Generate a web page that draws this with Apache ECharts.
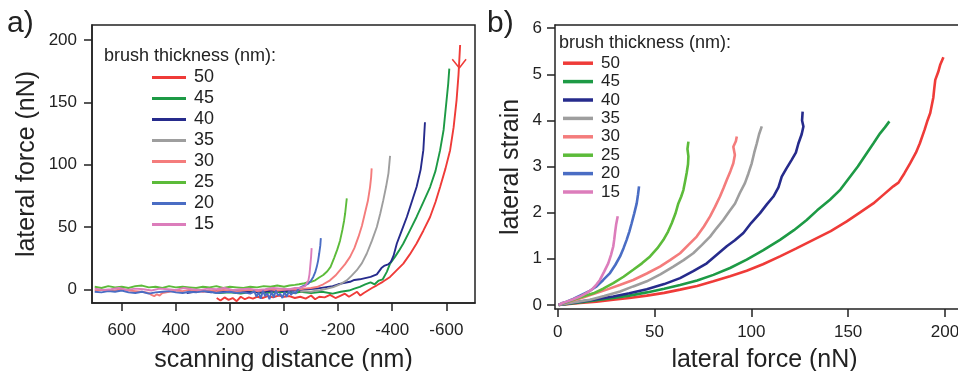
<!DOCTYPE html>
<html>
<head>
<meta charset="utf-8">
<script src="https://cdn.jsdelivr.net/npm/echarts@6/dist/echarts.min.js"></script>
</head>
<body style="margin:0">
<div id="main" style="width:958px;height:371px"></div>
<script>
// series names (brush thickness, nm) and colours
var names = ['50', '45', '40', '35', '30', '25', '20', '15'];
var colors = ['#ef3b38', '#1d9a45', '#262b8c', '#9e9e9e', '#f47c7c', '#5cbb3a', '#4a6dc4', '#dc7dbb'];

// panel a: scanning distance (nm) vs lateral force (nN)
var a50 = [[249,-7],[235,-9],[220,-6.5],[205,-8.5],[190,-7],[175,-9.5],[160,-6],[145,-8],[130,-6.5],[115,-7.5],[100,-6],[80,-7],[60,-5.5],[40,-6.5],[20,-5],[0,-6],[-20,-5.5],[-40,-7],[-60,-6],[-80,-7.5],[-100,-5],[-115,-8],[-130,-6],[-150,-6.5],[-170,-4.5],[-190,-7],[-210,-5],[-225,-3.5],[-240,-6],[-255,-4],[-270,-2],[-282,-5],[-295,-3],[-310,-1],[-325,1],[-343,3.2],[-365,6],[-392,9.9],[-415,15],[-441,20.6],[-465,28],[-490,36.7],[-515,47],[-540,58],[-560,70],[-577,82],[-597,97],[-614,111.6],[-627,130],[-638,152],[-645,172],[-651,196]];
var a45 = [[270,-2],[240,-3],[200,-2.5],[160,-3.5],[120,-2],[80,-3],[40,-2.5],[0,-2],[-40,-3],[-60,-2],[-100,-3],[-140,-2],[-180,-3.5],[-210,-2],[-240,-1],[-260,0.5],[-280,2],[-300,4],[-320,5.5],[-335,4],[-350,7],[-365,8],[-380,14],[-392,20.6],[-410,26],[-425,31],[-441,36.7],[-465,47],[-490,58],[-515,70],[-540,82],[-560,95],[-577,111.6],[-590,128],[-601,152],[-607,165],[-611,177]];
var a40 = [[360,-3],[330,-2],[300,-1.5],[270,-2.5],[240,-1],[200,-2],[160,-1.5],[120,-2.5],[80,-2],[40,-1],[0,-1.5],[-40,-1],[-80,0],[-120,0.5],[-150,1.5],[-180,2.5],[-200,4],[-220,5],[-244,6],[-260,7.5],[-280,8],[-300,9],[-320,10],[-343,12],[-360,17],[-372,19],[-385,20],[-395,22],[-405,27],[-417,36.7],[-435,47],[-454,58],[-472,70],[-490,82],[-505,96],[-515,111.6],[-521,134]];
var a35 = [[-60,-2],[-80,-1.5],[-100,-2],[-120,-1],[-133,-0.8],[-160,0.5],[-182,1.8],[-207,4],[-232,7.2],[-250,11],[-269,15.3],[-288,21],[-306,28.7],[-325,39],[-343,50],[-356,61],[-367,71.5],[-377,82],[-386,93],[-392,107]];
var a30 = [[700,-1],[675,-0.5],[650,-1.5],[625,-1],[600,0],[575,-1],[550,-1.5],[525,-2],[500,-3],[490,-4.5],[480,-5.5],[470,-4],[460,-5],[450,-3],[425,-2],[400,-1],[375,-1.5],[350,-0.5],[325,-1],[300,-2],[275,-1],[250,-1.5],[225,-0.5],[200,-1],[175,-2],[150,-1],[125,-0.5],[100,-1.5],[75,-1],[50,0],[25,-1],[0,-0.5],[-25,0],[-50,-0.5],[-75,0.5],[-100,1],[-121,1.8],[-145,4],[-170,7.2],[-190,11],[-207,15.3],[-225,20],[-244,26],[-260,33],[-275,42],[-288,51],[-299,61],[-310,71],[-318,82],[-322,90],[-324,97]];
var a25 = [[700,2],[675,1],[650,2.5],[625,1.5],[600,2],[575,1],[550,2.5],[525,3],[500,1.5],[475,2],[450,1],[425,2.5],[400,1.5],[375,2],[350,1.5],[325,1],[300,2],[275,1.5],[250,2.5],[225,1],[200,2],[175,1.5],[150,1],[125,2],[100,1.5],[75,2.5],[50,2],[25,3],[0,2],[-20,3],[-40,3.5],[-55,4],[-71,4.6],[-85,5.5],[-100,6],[-115,7.2],[-130,9.5],[-145,11.5],[-160,14.5],[-172,18],[-185,25],[-197,32],[-207,39],[-216,48],[-222,55],[-226,61],[-229,67],[-232,73]];
var a20 = [[700,-2],[675,-2.5],[650,-1.5],[625,-2],[600,-1],[575,-2.5],[550,-3],[525,-2],[500,-3.5],[475,-2.5],[450,-2],[425,-1.5],[400,-2.5],[375,-3],[350,-2],[325,-2.5],[300,-1.5],[275,-2],[250,-3],[225,-2.5],[200,-2],[175,-3],[150,-2.5],[125,-3.5],[110,-1.5],[102,-6],[94,-2.5],[86,-7.5],[78,-1],[70,-5.5],[62,-3],[54,-8],[46,-2],[38,-6.5],[30,-1],[22,-5],[14,-3.5],[6,-7],[-2,-2],[-10,-6],[-18,-1.5],[-26,-4.5],[-34,-2],[-42,-3.5],[-50,-0.5],[-59,1.3],[-70,2.5],[-80,3.5],[-90,4.6],[-100,7],[-108,9.9],[-115,13.5],[-121,18],[-126,23],[-130,28.7],[-134,35],[-136,41]];
var a15 = [[700,0.5],[670,-0.5],[640,0],[610,1],[580,-0.5],[550,0.5],[520,0],[490,-1],[460,0.5],[430,0],[400,-0.5],[370,1],[340,0],[310,-0.5],[280,0.5],[250,0],[220,1],[190,-0.5],[160,0],[130,0.5],[100,-0.5],[70,0],[40,1],[10,0.5],[-20,0],[-40,1],[-55,1],[-65,1.5],[-72,2],[-78,2.5],[-84,4],[-90,7],[-94,12],[-97,19],[-100,26],[-102,33]];
var arrowA = [[-622,184.5],[-648,177.5],[-673,184.5]];
var seriesA = [a50, a45, a40, a35, a30, a25, a20, a15];

// panel b: lateral force (nN) vs lateral strain
var b50 = [[0.5,0],[6,0.02],[11.5,0.04],[20,0.07],[28.7,0.11],[37,0.15],[46,0.2],[55,0.26],[63.2,0.33],[72,0.41],[80.4,0.51],[89,0.62],[97.6,0.74],[106,0.88],[114.8,1.05],[123,1.22],[132,1.41],[141,1.6],[149.3,1.81],[156,2.0],[163,2.2],[168,2.38],[173.3,2.57],[176,2.65],[179,2.85],[182,3.07],[185,3.3],[187,3.5],[189.5,3.8],[191,4.0],[192.4,4.16],[194,4.5],[194.5,4.7],[195,4.88],[196.5,5.05],[197.5,5.2],[199.2,5.37]];
var b45 = [[0.5,0],[11.5,0.05],[20,0.1],[28.7,0.15],[37,0.2],[46,0.27],[55,0.35],[63.2,0.43],[72,0.53],[80.4,0.65],[89,0.8],[97.6,0.98],[106,1.18],[114.8,1.41],[122,1.62],[128.6,1.84],[134,2.05],[140.6,2.28],[146,2.5],[151,2.78],[155,3.0],[159.6,3.29],[163,3.5],[166.5,3.72],[169,3.85],[171.3,3.98]];
var b40 = [[0.5,0],[11.5,0.07],[20,0.12],[28.7,0.18],[37,0.25],[46,0.34],[55,0.45],[63.2,0.58],[70,0.73],[77,0.9],[82,1.08],[87.3,1.27],[91.5,1.4],[95.9,1.56],[100,1.78],[104.5,1.99],[108,2.18],[111.4,2.35],[114,2.55],[115.7,2.78],[118,2.95],[120.9,3.15],[123,3.3],[124.3,3.5],[126,3.7],[126.9,3.87],[126.2,4.0],[126.5,4.19]];
var b35 = [[0.5,0],[8,0.05],[16.7,0.11],[24,0.19],[32.2,0.29],[39,0.4],[46,0.51],[53,0.66],[59.7,0.83],[65,0.97],[70,1.12],[74.5,1.3],[78.7,1.48],[82,1.66],[85.5,1.84],[88.5,2.02],[91.6,2.2],[94,2.42],[96.7,2.64],[98.5,2.85],[100.2,3.07],[101.5,3.3],[102.8,3.5],[104,3.7],[105.4,3.87]];
var b30 = [[0.5,0],[6,0.07],[11.5,0.14],[18,0.23],[25.3,0.33],[32,0.43],[39,0.54],[46,0.68],[52.8,0.83],[58,0.97],[63.2,1.12],[67.5,1.3],[71.8,1.48],[75.5,1.7],[78.7,1.92],[81.3,2.13],[83.8,2.35],[85.6,2.53],[87.3,2.71],[89.2,2.9],[90.7,3.07],[91.5,3.25],[90.7,3.43],[92,3.55],[92.5,3.65]];
var b25 = [[0.5,0],[4,0.05],[8.1,0.11],[13,0.18],[18.4,0.25],[23.5,0.35],[28.7,0.47],[34,0.61],[39,0.76],[43.5,0.9],[47.7,1.05],[51.5,1.23],[54.6,1.41],[57,1.59],[58.9,1.77],[60.8,1.98],[62.3,2.2],[63.8,2.35],[64.9,2.49],[65.8,2.68],[66.6,2.86],[67.3,3.05],[67.5,3.22],[67,3.38],[67.5,3.54]];
var b20 = [[0.5,0],[2.5,0.04],[4.6,0.07],[8,0.13],[11.5,0.2],[16,0.29],[20.1,0.4],[23.5,0.54],[27,0.69],[29.8,0.87],[32.2,1.05],[34,1.23],[35.6,1.41],[37,1.59],[38.2,1.77],[39.5,1.98],[40.8,2.2],[41.5,2.4],[42,2.57]];
var b15 = [[0.5,0],[2.5,0.04],[4.6,0.07],[8,0.12],[11.5,0.18],[15,0.26],[17.6,0.33],[20,0.44],[21.8,0.54],[24,0.72],[26.1,0.9],[27.5,1.08],[28.7,1.27],[29.2,1.42],[29.6,1.56],[30.2,1.75],[31,1.92]];
var seriesB = [b50, b45, b40, b35, b30, b25, b20, b15];

// tick labels
var ticksAx = [600, 400, 200, 0, -200, -400, -600];
var ticksAy = [0, 50, 100, 150, 200];
var ticksBx = [0, 50, 100, 150, 200];
var ticksBy = [0, 1, 2, 3, 4, 5, 6];

var ink = '#222';
var font = 'Liberation Sans';

function axisBase(ticks, margin, fs) {
    return {
        splitLine: { show: false },
        axisLine: { show: true, onZero: false, lineStyle: { color: ink, width: 1.5 } },
        axisTick: { show: true, length: 8, customValues: ticks, lineStyle: { color: ink, width: 1.5 } },
        axisLabel: { customValues: ticks, margin: margin, color: ink, fontSize: fs, fontFamily: font },
        nameLocation: 'middle',
        nameTextStyle: { color: ink, fontSize: 25, fontFamily: font }
    };
}

var xA = Object.assign(axisBase(ticksAx, 19, 17), {
    type: 'value', gridIndex: 0, inverse: true, min: -706, max: 710,
    name: 'scanning distance (nm)', nameGap: 45
});
var yA = Object.assign(axisBase(ticksAy, 15, 17), {
    type: 'value', gridIndex: 0, min: -11, max: 212,
    name: 'lateral force (nN)', nameGap: 52
});
var xB = Object.assign(axisBase(ticksBx, 15, 17), {
    type: 'value', gridIndex: 1, min: -1.4, max: 215,
    name: 'lateral force (nN)', nameGap: 39
});
// top frame line of panel b (its right side runs off the page edge)
var xBtop = {
    type: 'value', gridIndex: 1, position: 'top', min: -1.4, max: 215,
    splitLine: { show: false }, axisTick: { show: false }, axisLabel: { show: false },
    axisLine: { show: true, onZero: false, lineStyle: { color: ink, width: 1.5 } }
};
var yB = Object.assign(axisBase(ticksBy, 13, 17), {
    type: 'value', gridIndex: 1, min: -0.09, max: 6.07,
    name: 'lateral strain', nameGap: 31
});

var series = [];
seriesA.forEach(function (d, i) {
    series.push({
        name: names[i], type: 'line', xAxisIndex: 0, yAxisIndex: 0,
        data: d, showSymbol: false, color: colors[i],
        lineStyle: { width: 1.9 }
    });
});
series.push({
    name: 'arrow', type: 'line', xAxisIndex: 0, yAxisIndex: 0,
    data: arrowA, showSymbol: false, color: colors[0],
    lineStyle: { width: 1.5 }
});
seriesB.forEach(function (d, i) {
    series.push({
        name: names[i], type: 'line', xAxisIndex: 1, yAxisIndex: 1,
        data: d, showSymbol: false, color: colors[i],
        lineStyle: { width: 2.6 }
    });
});

var option = {
    animation: false,
    textStyle: { fontFamily: font },
    title: [
        { text: 'a)', left: 7, top: 9, padding: 0, textStyle: { fontSize: 30, fontWeight: 'normal', color: ink, fontFamily: font } },
        { text: 'b)', left: 487, top: 9, padding: 0, textStyle: { fontSize: 30, fontWeight: 'normal', color: ink, fontFamily: font } },
        { text: 'brush thickness (nm):', left: 104, top: 47, padding: 0, textStyle: { fontSize: 18, fontWeight: 'normal', color: ink, fontFamily: font } },
        { text: 'brush thickness (nm):', left: 559, top: 34, padding: 0, textStyle: { fontSize: 18, fontWeight: 'normal', color: ink, fontFamily: font } }
    ],
    legend: [
        {
            data: names, orient: 'vertical', left: 152, top: 67, padding: 0,
            itemWidth: 34, itemHeight: 3, itemGap: 0, icon: 'rect', selectedMode: false,
            textStyle: { fontSize: 18, lineHeight: 21, color: ink, fontFamily: font, padding: [0, 0, 0, 3] }
        },
        {
            data: names, orient: 'vertical', left: 563, top: 54, padding: 0,
            itemWidth: 30, itemHeight: 3.5, itemGap: 0, icon: 'rect', selectedMode: false,
            textStyle: { fontSize: 17, lineHeight: 18.4, color: ink, fontFamily: font, padding: [0, 0, 0, 3] }
        }
    ],
    grid: [
        { left: 92, top: 25, width: 383, height: 278, outerBoundsMode: 'none', show: true, borderColor: ink, borderWidth: 1.5 },
        { left: 555, top: 25, width: 419, height: 284, outerBoundsMode: 'none' }
    ],
    xAxis: [xA, xB, xBtop],
    yAxis: [yA, yB],
    series: series
};

var chart = echarts.init(document.getElementById('main'));
chart.setOption(option);
</script>
</body>
</html>
